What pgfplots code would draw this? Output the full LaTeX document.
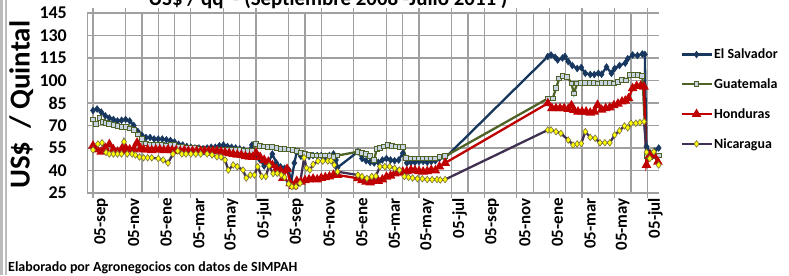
\documentclass[border=0pt]{standalone}
\usepackage{fontspec}
\setmainfont{Carlito}
\usepackage{pgfplots}
\pgfplotsset{compat=1.18}
\definecolor{gridgray}{RGB}{160,160,160}
\definecolor{salv}{RGB}{23,55,94}
\definecolor{guat}{RGB}{79,98,40}
\definecolor{guatfill}{RGB}{200,212,228}
\definecolor{hond}{RGB}{192,0,0}
\definecolor{nica}{RGB}{64,49,82}
\definecolor{nicafill}{RGB}{255,255,0}
\definecolor{nicaedge}{RGB}{120,110,60}
\begin{document}
\begin{tikzpicture}[x=1bp,y=1bp]
\useasboundingbox (0,0) rectangle (789,275);
\begin{scope}
\clip (0,0) rectangle (789,275);
\draw[gridgray!70, line width=2.4bp] (1.4,0) -- (1.4,275);
\draw[gridgray!70, line width=2.4bp] (6.2,0) -- (6.2,275);
\node[anchor=base, inner sep=0pt, font=\bfseries\fontsize{21}{24}\selectfont] at (328,270) {US\$ / qq \ - (Septiembre 2008 -Julio 2011 )};
\node[anchor=base west, inner sep=0pt, font=\bfseries\fontsize{14}{16}\selectfont] at (8,4) {Elaborado por Agronegocios con datos de SIMPAH};
\begin{axis}[
  at={(87bp,82bp)}, anchor=south west,
  scale only axis, width=572bp, height=180bp,
  xmin=-0.37, xmax=34.72, ymin=25, ymax=145,
  ytick={25,40,...,145},
  xtick={0,2,...,34},
  xticklabels={05-sep,05-nov,05-ene,05-mar,05-may,05-jul,05-sep,05-nov,05-ene,05-mar,05-may,05-jul,05-sep,05-nov,05-ene,05-mar,05-may,05-jul},
  extra x ticks={3,5,9,13,19,23,27,29,31,33},
  extra x tick labels={},
  extra x tick style={grid=major, major tick length=0pt},
  grid=major,
  grid style={gridgray, line width=1.2bp},
  axis line style={draw=none},
  tick align=outside,
  xtick style={gridgray, line width=1.2bp},
  major tick length=5bp,
  ytick style={draw=none},
  /pgf/number format/assume math mode=true,
  yticklabel style={font=\bfseries\fontsize{18}{20}\selectfont, anchor=east, inner sep=0pt, xshift=-15bp},
  xticklabel style={font=\bfseries\fontsize{17}{20}\selectfont, rotate=90, anchor=east, inner sep=0pt, yshift=-8bp},
  ylabel={US\$ \ / Quintal},
  every axis y label/.style={at={(axis description cs:-0.115,0.49)}, rotate=90, anchor=center, font=\bfseries\fontsize{29}{34}\selectfont},
  legend style={at={(axis description cs:1.037,0.81)}, anchor=north west, draw=none, fill=none, inner sep=0pt,
    font=\bfseries\fontsize{14}{16}\selectfont, row sep=15.5bp, nodes={inner sep=1.5bp}},
  legend cell align=left,
  legend image code/.code={\draw[mark repeat=2,mark phase=2] plot coordinates {(0bp,0bp) (15bp,0bp) (30bp,0bp)};},
]
\draw[gridgray, line width=1.2bp] (rel axis cs:0,0) -- (rel axis cs:0,1);
\addplot[salv, line width=2.3bp, mark=diamond*, mark size=3.4bp, mark options={fill=salv, draw=salv, line width=0.5bp}] coordinates {
(0.0,80) (0.25,81) (0.5,79) (0.75,76.5) (1.0,75) (1.25,74) (1.5,73) (1.75,73.5) (2.0,74) (2.25,73) (2.5,70) (2.75,66) (3.0,63.5) (3.25,62) (3.5,62) (3.75,61) (4.0,61) (4.25,61) (4.5,60.5) (4.75,60) (5.0,59) (5.25,57.5) (5.5,57) (5.75,56) (6.0,55.5) (6.25,55) (6.5,55) (6.75,54.5) (7.0,55) (7.25,55.5) (7.5,55.5) (7.75,56.5) (8.0,57) (8.25,56) (8.5,55.5) (8.75,55) (9.0,54.5) (9.25,53.7) (9.5,52.5) (9.75,57) (10.0,50) (10.25,47) (10.5,43) (10.75,45) (11.0,51) (11.25,45) (11.5,42.5) (11.75,41.5) (12.0,40.5) (12.15,32) (12.35,45) (12.5,52.5) (12.75,49.5) (13.0,50) (13.25,49.5) (13.5,50) (13.75,50) (14.0,50) (14.25,49.5) (14.5,50) (14.75,51) (14.9,47) (15.0,42)
(16.25,52.5) (16.5,48) (16.75,46.5) (17.0,45.5) (17.25,45) (17.5,45.5) (17.75,47) (18.0,48) (18.25,47) (18.5,46.5) (18.75,47) (19.0,51.5) (19.25,45) (19.5,45.5) (19.75,45.5) (20.0,46) (20.25,46) (20.5,45.5) (20.75,46) (21.0,46.5) (21.25,48) (21.6,48.5)
(27.9,116) (28.1,117) (28.35,115.5) (28.5,113.7) (28.8,115) (28.95,116) (29.15,112.6) (29.4,110) (29.7,108) (29.95,108.7) (30.2,104.8) (30.5,104) (30.75,104) (31.0,104.8) (31.2,104.2) (31.5,109) (31.8,104.8) (32.0,108) (32.3,110) (32.65,111.6) (32.8,114.5) (33.1,117) (33.4,116.7) (33.7,117.7) (33.85,117.4)
(33.95,56) (34.2,51.5) (34.45,53) (34.7,55)
};
\addlegendentry{El Salvador}
\addplot[guat, line width=2.3bp, mark=square*, mark size=2.4bp, mark options={fill=guatfill, draw=guat, line width=1bp}] coordinates {
(0.0,74) (0.2,71) (0.4,75) (0.6,72.5) (0.8,71.5) (1.0,71) (1.25,70.5) (1.5,69.5) (1.75,69) (2.0,69) (2.25,68) (2.5,67) (2.75,64) (3.0,61) (3.25,58) (3.5,57) (3.75,57) (4.0,57) (4.25,57) (4.5,56.5) (4.75,57) (5.0,57) (5.25,56) (5.5,55.5) (5.75,55) (6.0,55) (6.25,55) (6.5,54.5) (6.75,54) (7.0,54) (7.25,54) (7.5,54) (7.75,54) (8.0,54) (8.25,54) (8.5,53.5) (8.75,53.5) (9.0,53.5) (9.25,53) (9.5,53) (9.75,53) (10.0,57.5) (10.25,56.5) (10.5,56) (10.75,55.5) (11.0,55.5) (11.25,55) (11.5,54.5) (11.75,54.5) (12.0,54) (12.25,53.5) (12.5,53) (12.75,51.5) (13.0,51) (13.25,50.5) (13.5,50) (13.75,50) (14.0,50) (14.25,50) (14.5,49.5) (14.75,49) (15.0,50)
(16.25,52.5) (16.5,51.5) (16.75,51) (17.0,49.5) (17.25,47) (17.4,54.5) (17.6,55) (17.85,56) (18.1,57) (18.35,56.5) (18.6,56) (18.85,55.5) (19.0,55.5) (19.2,48.5) (19.5,48) (19.75,48) (20.0,48) (20.25,48) (20.5,48) (20.75,48) (21.0,48) (21.25,49) (21.6,49.5)
(27.9,88) (28.2,88) (28.4,94.8) (28.6,101.4) (28.8,103) (29.1,102.5) (29.35,98) (29.5,91.4) (29.7,98) (29.95,98.5) (30.2,98.5) (30.45,98.5) (30.7,98.5) (30.95,98) (31.2,98.5) (31.45,98.5) (31.7,98.5) (31.95,98) (32.2,99) (32.45,100.3) (32.7,100) (32.95,103.7) (33.2,103.5) (33.45,103.5) (33.7,103)
(33.95,49.5) (34.2,49) (34.45,49.5) (34.7,50)
};
\addlegendentry{Guatemala}
\addplot[hond, line width=2.3bp, mark=triangle*, mark size=3.3bp, mark options={fill=hond, draw=hond}] coordinates {
(0.0,56.5) (0.25,54) (0.5,52.5) (0.75,55) (1.0,57.5) (1.25,54) (1.5,52.5) (1.75,53) (1.85,56) (2.0,55) (2.25,54) (2.5,54) (2.7,58.5) (2.9,54.5) (3.1,54) (3.35,54) (3.6,53.5) (3.85,54) (4.1,54) (4.35,53.5) (4.6,54) (4.85,53.5) (5.1,53.5) (5.35,53) (5.6,53.5) (5.85,53) (6.1,53) (6.35,53) (6.6,53) (6.85,53) (7.1,53) (7.35,53) (7.6,53) (7.85,52.5) (8.1,52) (8.35,51.5) (8.6,51) (8.85,50.5) (9.1,50.3) (9.35,49.5) (9.6,49.2) (9.8,49) (10.0,51.7) (10.25,49) (10.5,47) (10.75,45.8) (11.0,43.6) (11.25,41) (11.5,40) (11.65,35) (11.9,41) (12.1,31.5) (12.3,29.5) (12.5,33) (12.75,32.5) (13.0,33.5) (13.25,34) (13.5,34.5) (13.75,34) (14.0,35) (14.25,35.5) (14.5,36) (14.75,37) (15.0,37)
(16.25,34.8) (16.5,33.5) (16.75,32.5) (17.0,32) (17.25,33) (17.5,33) (17.75,34) (18.0,35.8) (18.25,36.5) (18.5,38) (18.75,38.5) (19.0,39.2) (19.25,39.5) (19.5,40.3) (19.75,40) (20.0,39.5) (20.25,39.2) (20.5,39.5) (20.75,40.3) (21.0,40) (21.25,42.6) (21.6,45)
(27.9,84.8) (28.15,81.5) (28.4,81.5) (28.65,81.5) (28.9,81.5) (29.15,81) (29.35,83.4) (29.5,80.3) (29.75,79.2) (30.0,79.2) (30.25,79.2) (30.5,78.5) (30.75,79.2) (30.95,83.7) (31.2,80.5) (31.45,81.5) (31.7,82) (31.95,83.4) (32.2,84.5) (32.45,85.9) (32.65,86.5) (32.85,88.1) (33.1,94.8) (33.35,96.3) (33.6,96.5) (33.8,95.8)
(33.95,43.7) (34.15,50.3) (34.4,50) (34.65,45.8)
};
\addlegendentry{Honduras}
\addplot[nica, line width=2.3bp, mark=diamond*, mark size=3.3bp, mark options={fill=nicafill, draw=nicaedge, line width=0.6bp}] coordinates {
(0.0,53.7) (0.3,57.7) (0.55,58.5) (0.8,52) (1.0,51) (1.25,51) (1.5,51) (1.75,51) (1.9,59.2) (2.1,51) (2.4,51) (2.6,50.3) (2.85,49) (3.1,48.5) (3.35,48.5) (3.6,48.5) (4.0,48) (4.3,47) (4.6,45) (4.9,51) (5.2,53) (5.45,51) (5.7,51) (6.0,51) (6.3,51) (6.6,51) (7.0,51) (7.3,50.3) (7.6,49.2) (7.85,49) (8.1,47) (8.3,40.3) (8.6,43.7) (8.85,42.6) (9.2,40.3) (9.4,35) (9.65,37) (9.9,37) (10.1,42.6) (10.35,36) (10.6,36) (10.8,43.2) (11.05,38) (11.3,38.1) (11.55,37) (11.75,35.5) (12.0,31) (12.2,29.2) (12.45,29.2) (12.7,31.5) (12.95,48.5) (13.1,41.7) (13.3,40.3) (13.5,44.1) (13.8,46.3) (14.1,46.3) (14.4,46.3) (14.6,46.5) (14.8,43.7) (15.0,39.2)
(16.25,37) (16.5,36) (16.8,34.8) (17.1,36) (17.35,36.3) (17.6,42.6) (17.9,42.6) (18.2,42.6) (18.5,41.5) (18.8,40.3) (19.1,36) (19.35,35.5) (19.6,35) (19.9,34.5) (20.2,34.5) (20.5,34) (20.8,34) (21.1,34) (21.3,33.7) (21.6,34)
(27.9,67) (28.1,67) (28.4,65.9) (28.7,64.8) (29.15,60.3) (29.45,57) (29.7,57.7) (29.95,58) (30.2,65.9) (30.5,62.1) (30.8,61.5) (31.1,58.5) (31.4,58.5) (31.7,58.5) (32.0,63.7) (32.3,66.5) (32.6,69.7) (32.8,68.5) (33.0,71.5) (33.3,71.5) (33.55,72) (33.8,72.6)
(33.95,52.2) (34.15,48) (34.4,52.5) (34.7,43.7)
};
\addlegendentry{Nicaragua}
\end{axis}
\end{scope}
\end{tikzpicture}
\end{document}
